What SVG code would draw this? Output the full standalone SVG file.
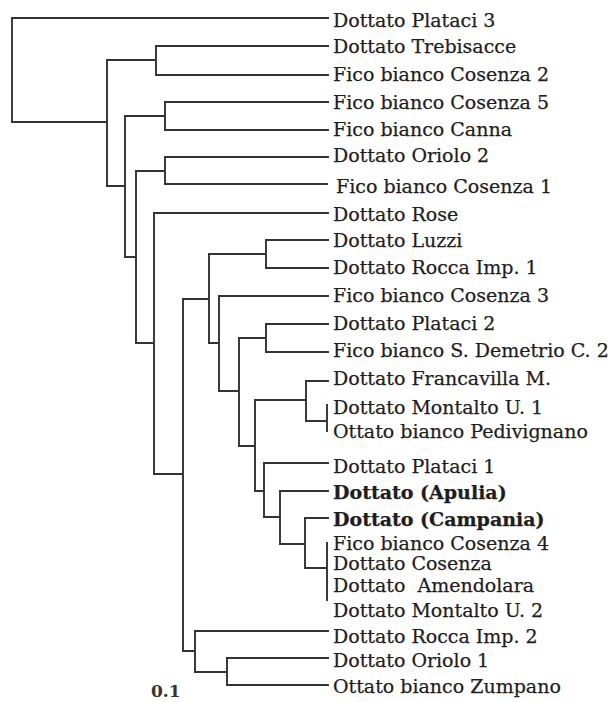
<svg xmlns="http://www.w3.org/2000/svg" width="611" height="702" viewBox="0 0 611 702">
<style>
.c{fill:none;stroke:#333;stroke-width:1.9;stroke-linecap:square}
.t{font-family:"DejaVu Serif","Liberation Serif",serif;font-size:19px;fill:#1e1e1e;stroke:#1e1e1e;stroke-width:0.25}
.b{font-weight:bold}
.s{font-family:"DejaVu Serif","Liberation Serif",serif;font-size:17px;font-weight:bold;fill:#333}
</style>
<rect width="611" height="702" fill="#fff"/>
<g id="connectors" class="c">
<path d="M12 18V122"/>
<path d="M12 122H107M107 60V186"/>
<path d="M107 60H156M156 46V75"/>
<path d="M107 186H125M125 116V257"/>
<path d="M125 116H165M165 102V130"/>
<path d="M125 257H136M136 171V343"/>
<path d="M136 171H165M165 157V184"/>
<path d="M136 343H154M154 213V474"/>
<path d="M154 474H183M183 299V651"/>
<path d="M183 299H209M209 254V343"/>
<path d="M209 254H266M266 240V268"/>
<path d="M209 343H219M219 296V391"/>
<path d="M219 391H239M239 338V446"/>
<path d="M239 338H266M266 324V352"/>
<path d="M239 446H255M255 400V491"/>
<path d="M255 400H306M306 381V421H327M327 405V431"/>
<path d="M255 491H264M264 463V517"/>
<path d="M264 517H280M280 491V544"/>
<path d="M280 544H305M305 518V568H327M327 543V600"/>
<path d="M183 651H195M195 631V672"/>
<path d="M195 672H227M227 658V685"/>
<path d="M12 18H328M156 46H328M156 75H328M165 102H328M165 130H328M165 157H328M165 184H327M154 213H328M266 240H328M266 268H328M219 296H328M266 324H328M266 352H328M306 381H328M264 463H328M280 491H328M305 518H328M195 631H328M227 658H328M227 685H328"/>
</g>
<g id="leaf-platachi3"><text class="t" x="333" y="27">Dottato Plataci 3</text></g>
<g id="leaf-trebisacce"><text class="t" x="333" y="53">Dottato Trebisacce</text></g>
<g id="leaf-cosenza2"><text class="t" x="333" y="81">Fico bianco Cosenza 2</text></g>
<g id="leaf-cosenza5"><text class="t" x="333" y="109">Fico bianco Cosenza 5</text></g>
<g id="leaf-canna"><text class="t" x="333" y="136">Fico bianco Canna</text></g>
<g id="leaf-oriolo2"><text class="t" x="333" y="162">Dottato Oriolo 2</text></g>
<g id="leaf-cosenza1"><text class="t" x="336" y="193">Fico bianco Cosenza 1</text></g>
<g id="leaf-rose"><text class="t" x="333" y="221">Dottato Rose</text></g>
<g id="leaf-luzzi"><text class="t" x="333" y="247">Dottato Luzzi</text></g>
<g id="leaf-rocca1"><text class="t" x="333" y="274">Dottato Rocca Imp. 1</text></g>
<g id="leaf-cosenza3"><text class="t" x="333" y="302">Fico bianco Cosenza 3</text></g>
<g id="leaf-plataci2"><text class="t" x="333" y="330">Dottato Plataci 2</text></g>
<g id="leaf-sdemetrio"><text class="t" x="333" y="357">Fico bianco S. Demetrio C. 2</text></g>
<g id="leaf-francavilla"><text class="t" x="333" y="385">Dottato Francavilla M.</text></g>
<g id="leaf-montalto1"><text class="t" x="333" y="414">Dottato Montalto U. 1</text></g>
<g id="leaf-pedivignano"><text class="t" x="333" y="438">Ottato bianco Pedivignano</text></g>
<g id="leaf-plataci1"><text class="t" x="333" y="473">Dottato Plataci 1</text></g>
<g id="leaf-apulia"><text class="t b" x="333" y="499">Dottato (Apulia)</text></g>
<g id="leaf-campania"><text class="t b" x="333" y="526">Dottato (Campania)</text></g>
<g id="leaf-cosenza4"><text class="t" x="333" y="550">Fico bianco Cosenza 4</text></g>
<g id="leaf-dcosenza"><text class="t" x="333" y="570">Dottato Cosenza</text></g>
<g id="leaf-amendolara"><text class="t" x="333" y="592" xml:space="preserve">Dottato  Amendolara</text></g>
<g id="leaf-montalto2"><text class="t" x="333" y="617">Dottato Montalto U. 2</text></g>
<g id="leaf-rocca2"><text class="t" x="333" y="643">Dottato Rocca Imp. 2</text></g>
<g id="leaf-oriolo1"><text class="t" x="333" y="667">Dottato Oriolo 1</text></g>
<g id="leaf-zumpano"><text class="t" x="333" y="693">Ottato bianco Zumpano</text></g>
<g id="scale"><text class="s" x="151" y="697">0.1</text></g>
</svg>
